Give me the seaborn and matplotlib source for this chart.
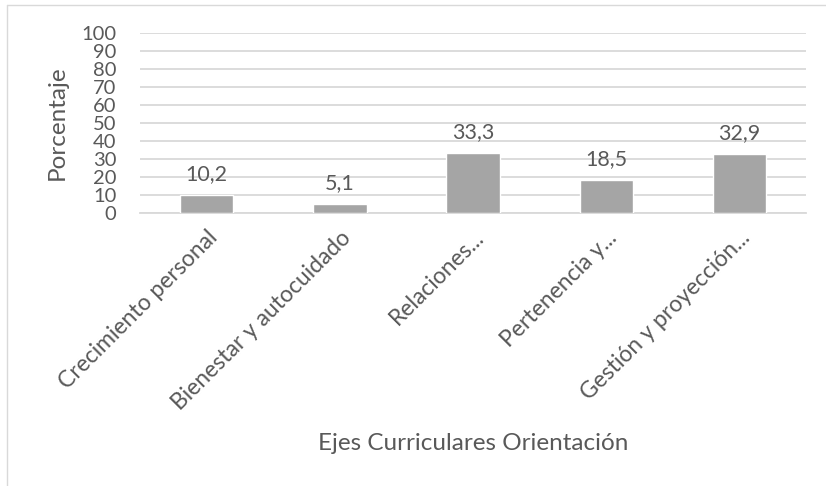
import numpy as np
import pandas as pd
import matplotlib
matplotlib.use("Agg")
import matplotlib.pyplot as plt
import seaborn as sns

# data
categorias = ["Crecimiento personal", "Bienestar y autocuidado", "Relaciones...",
              "Pertenencia y...", "Gestión y proyección..."]
porcentajes = [10.2, 5.1, 33.3, 18.5, 32.9]
etiquetas = ["10,2", "5,1", "33,3", "18,5", "32,9"]
y_ticks = list(range(0, 101, 10))

df = pd.DataFrame({"eje": categorias, "pct": porcentajes})

sns.set_style("white")
plt.rcParams["font.family"] = ["Lato", "DejaVu Sans"]
txt = "#595959"

fig = plt.figure(figsize=(8.26, 4.86), dpi=100)
ax = fig.add_axes([0.1695, 0.5617, 0.8065, 0.3703])

sns.barplot(data=df, x="eje", y="pct", color="#A5A5A5", width=0.4,
            saturation=1, ax=ax, zorder=3)

ax.set_ylim(0, 100)
ax.set_yticks(y_ticks)
ax.set_xlim(-0.5, len(categorias) - 0.5)
ax.grid(axis="y", color="#D9D9D9", linewidth=1.3, zorder=0)
for s in ["top", "right", "left"]:
    ax.spines[s].set_visible(False)
ax.spines["bottom"].set_color("#D9D9D9")
ax.spines["bottom"].set_linewidth(1.3)

ax.tick_params(axis="both", length=0, colors=txt)
ax.tick_params(axis="y", pad=17, labelsize=14.5)
ax.tick_params(axis="x", pad=10)
ax.set_xticks(range(len(categorias)))
ax.set_xticklabels(categorias, rotation=45, ha="right", rotation_mode="anchor",
                   fontsize=16.5, color=txt)

for i, (v, lab) in enumerate(zip(porcentajes, etiquetas)):
    ax.annotate(lab, (i, v), xytext=(0, 15), textcoords="offset points",
                ha="center", va="center", fontsize=15.5, color=txt)

ax.set_ylabel("Porcentaje", fontsize=17.5, color=txt)
ax.yaxis.set_label_coords(-0.108, 0.5)
ax.set_xlabel("")
fig.text(0.573, 0.088, "Ejes Curriculares Orientación", ha="center",
         va="center", fontsize=17.5, color=txt)

# chart border (top and left edges visible)
fig.add_artist(plt.Line2D([7 / 826, 1], [1 - 5 / 486, 1 - 5 / 486],
                          color="#D9D9D9", linewidth=1, transform=fig.transFigure))
fig.add_artist(plt.Line2D([7 / 826, 7 / 826], [0, 1 - 5 / 486],
                          color="#D9D9D9", linewidth=1, transform=fig.transFigure))

plt.savefig("out.png", dpi=100)
